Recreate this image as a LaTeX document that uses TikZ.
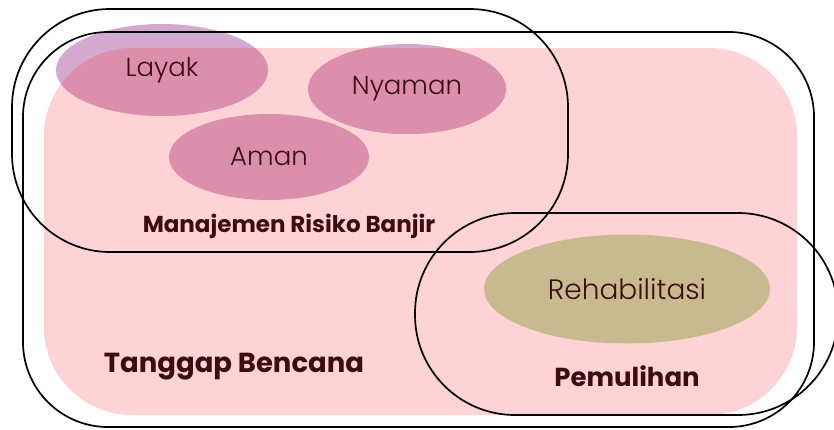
\documentclass[tikz,border=0pt]{standalone}
\usepackage{fontspec}
\setmainfont{Poppins}
\newfontfamily\thinfont{Poppins}[UprightFont={* Light}]
\usetikzlibrary{shapes.geometric, positioning}

\definecolor{pinkbg}{HTML}{FDD3D5}
\definecolor{mauve}{HTML}{DB8FAD}
\definecolor{lavender}{HTML}{D4A9D0}
\definecolor{khaki}{HTML}{C8BA8E}
\definecolor{darktext}{HTML}{3B0D12}

\begin{document}
\begin{tikzpicture}[
    x=1pt, y=-1pt,
    blob/.style={ellipse, inner sep=0pt, text=darktext, font=\thinfont\fontsize{26}{30}\selectfont},
    frame/.style={draw=black, line width=1.7pt},
    title/.style={text=darktext, font=\bfseries\fontsize{23}{27}\selectfont}
]
\useasboundingbox (0,0) rectangle (834,429);

% ── Background panel ───────────────────────────────────────
\fill[pinkbg, rounded corners=88pt] (44,48) rectangle (797,415);

% ── Ellipses ───────────────────────────────────────────────
\node[blob, fill=lavender, minimum width=212pt, minimum height=92pt] (layak) at (162,70) {};
\node[blob, fill=lavender, minimum width=198pt, minimum height=90pt] (nyaman) at (407,89) {};
\begin{scope}
  \clip[rounded corners=88pt] (44,48) rectangle (797,415);
  \fill[mauve] (layak.center) ellipse [x radius=106pt, y radius=46pt];
  \fill[mauve] (nyaman.center) ellipse [x radius=99pt, y radius=45pt];
\end{scope}
\node[blob, fill=mauve, minimum width=200pt, minimum height=86pt] (aman) at (269,157) {};
\node[blob, fill=khaki, minimum width=286pt, minimum height=109pt] (rehab) at (627,289) {};

\node[blob] at (layak.center)  {Layak};
\node[blob] at (nyaman.center) {Nyaman};
\node[blob] at (aman.center)   {Aman};
\node[blob, font=\thinfont\fontsize{28}{32}\selectfont] at (rehab.center) {Rehabilitasi};

% ── Frames ────────────────────────────────────────────────
\draw[frame, rounded corners=85pt] (23,32) rectangle (814,427);   % tanggap bencana
\draw[frame, rounded corners=98pt] (12,9) rectangle (568,252);    % manajemen risiko
\draw[frame, rounded corners=100pt] (415,213) rectangle (838,415); % pemulihan

% ── Frame titles ──────────────────────────────────────────
\node[title] (mrb) at (289,226) {Manajemen Risiko Banjir};
\node[title, font=\bfseries\fontsize{27.5}{31}\selectfont] (tb) at (234,367) {Tanggap Bencana};
\node[title, font=\bfseries\fontsize{26}{30}\selectfont] (pem) at (627,376) {Pemulihan};

\end{tikzpicture}
\end{document}
